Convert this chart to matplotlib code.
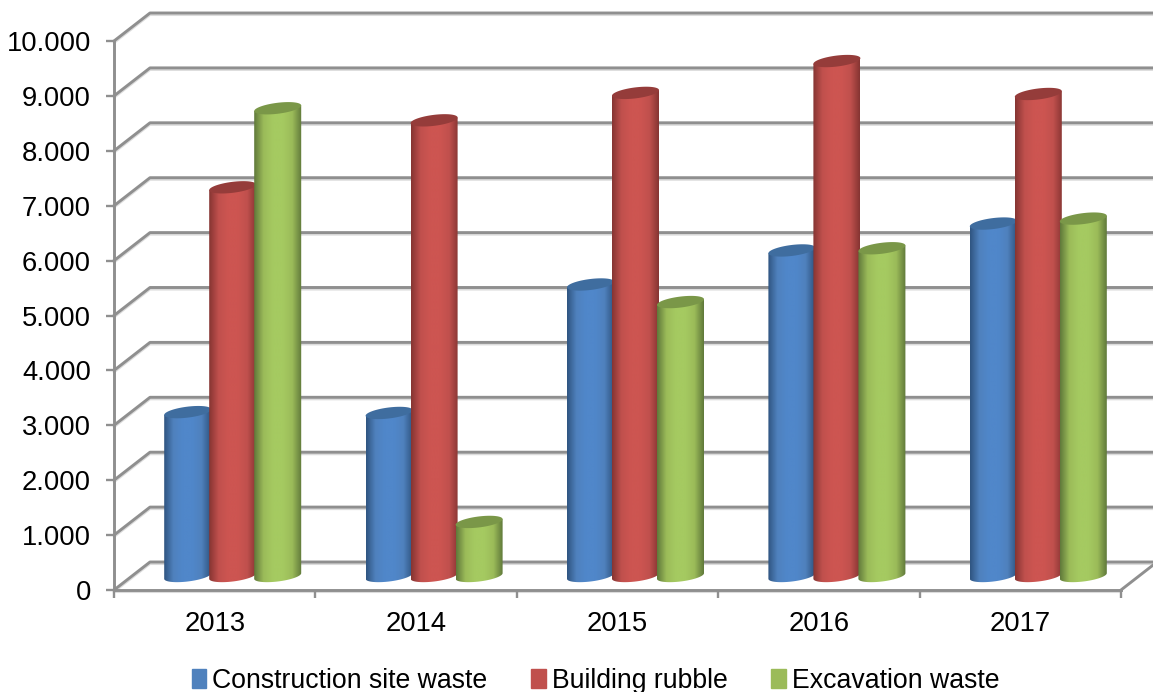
import numpy as np
import matplotlib
matplotlib.use('Agg')
import matplotlib.pyplot as plt
from matplotlib.colors import LinearSegmentedColormap
from matplotlib.patches import Patch, Polygon

plt.rcParams['font.family'] = ['Liberation Sans', 'DejaVu Sans']

years = ['2013', '2014', '2015', '2016', '2017']
series = ['Construction site waste', 'Building rubble', 'Excavation waste']
construction = [2985, 2970, 5310, 5930, 6420]
rubble = [7080, 8300, 8800, 9380, 8780]
excavation = [8520, 985, 4990, 5970, 6510]
y_ticks = [0, 1000, 2000, 3000, 4000, 5000, 6000, 7000, 8000, 9000, 10000]
y_labels = ['0', '1.000', '2.000', '3.000', '4.000', '5.000', '6.000', '7.000', '8.000', '9.000', '10.000']

base = ['#4f81bd', '#c0504d', '#9bbb59']
centre = ['#5087ca', '#cd5551', '#a5ca61']
edge = ['#2f5480', '#853432', '#5f783a']
top = ['#3f6d9f', '#953c3a', '#7a9748']
grey = '#8f8f8f'
shadow = '#dcdcdc'

W, H = 1153, 692
fig = plt.figure(figsize=(W / 100, H / 100), dpi=100)
# plot box of the front plane, in pixels
left, right, y0, y1 = 114, 1121, 590, 41
ax = fig.add_axes([left / W, 1 - y0 / H, (right - left) / W, (y0 - y1) / H])
ax.set_xlim(0, 5)
ax.set_ylim(0, 10000)

# pixel to data sizes
px_x = 5 / (right - left)
px_y = 10000 / (y0 - y1)
depth_x = 36 * px_x
depth_y = 28 * px_y

# walls of the 3d box
for v in y_ticks:
    xs = [0, depth_x, 5.3]
    ys = [v, v + depth_y, v + depth_y]
    ax.plot(xs, [y - 2 * px_y for y in ys], color=shadow, lw=1.5, clip_on=False, zorder=1)
    ax.plot(xs, ys, color=grey, lw=2.1, clip_on=False, zorder=1.1)
ax.plot([5, 5 + depth_x], [0, depth_y], color=grey, lw=2.1, clip_on=False, zorder=1.1)
ax.plot([0, 5], [-2 * px_y, -2 * px_y], color=shadow, lw=1.5, clip_on=False, zorder=1)

for s in ['top', 'right']:
    ax.spines[s].set_visible(False)
for s in ['left', 'bottom']:
    ax.spines[s].set_color(grey)
    ax.spines[s].set_linewidth(2.1)

ax.set_yticks(y_ticks)
ax.set_yticklabels(y_labels)
ax.set_xticks(range(6))
ax.set_xticklabels([])
ax.set_xticks(np.arange(5) + 0.5, minor=True)
ax.set_xticklabels(years, minor=True)
ax.tick_params(axis='y', length=6, width=1.7, color=grey, pad=10.5, labelsize=19.7, labelcolor='black')
ax.tick_params(axis='x', which='major', length=6, width=1.7, color=grey)
ax.tick_params(axis='x', which='minor', length=0, pad=15.2, labelsize=19.7, labelcolor='black')

half_w = 23.5 * px_x
step = 45 * px_x
rise = 2.8  # ellipse end height in px, slopes up to the right
t_top = np.linspace(0, 2 * np.pi, 80)
t_low = np.linspace(np.pi, 2 * np.pi, 50)


def rim(cx, v, t):
    return cx + half_w * np.cos(t), v + (rise * np.cos(t) + 5.5 * np.sin(t)) * px_y


for s, values in enumerate([construction, rubble, excavation]):
    cmap = LinearSegmentedColormap.from_list(series[s], [edge[s], base[s], centre[s], centre[s], base[s], edge[s]])
    for i, v in enumerate(values):
        cx = i + 0.5 + depth_x / 2 + (s - 1) * step
        floor = depth_y / 2
        height = floor + v
        lx, ly = rim(cx, floor, t_low)
        outline = [(cx - half_w, height - rise * px_y)] + list(zip(lx, ly)) + [(cx + half_w, height + rise * px_y)]
        body = Polygon(outline, closed=True, transform=ax.transData)
        img = ax.imshow(np.linspace(0, 1, 256).reshape(1, -1), cmap=cmap, aspect='auto',
                        extent=[cx - half_w, cx + half_w, floor - 10 * px_y, height + 6 * px_y],
                        zorder=3 + s + i * 0.01, interpolation='bilinear')
        img.set_clip_path(body)
        tx, ty = rim(cx, height, t_top)
        ax.fill(tx, ty, color=top[s], lw=0, zorder=3 + s + i * 0.01 + 0.001, clip_on=False)

ax.set_xlim(0, 5)
ax.set_ylim(0, 10000)

handles = [Patch(color=c) for c in base]
fig.legend(handles, series, loc='lower left', bbox_to_anchor=(192 / W, -2 / H), ncol=3, frameon=False,
           fontsize=19.2, handlelength=0.53, handleheight=0.72, handletextpad=0.23, columnspacing=1.65,
           borderpad=0, borderaxespad=0)

fig.savefig('out.png', dpi=100)
